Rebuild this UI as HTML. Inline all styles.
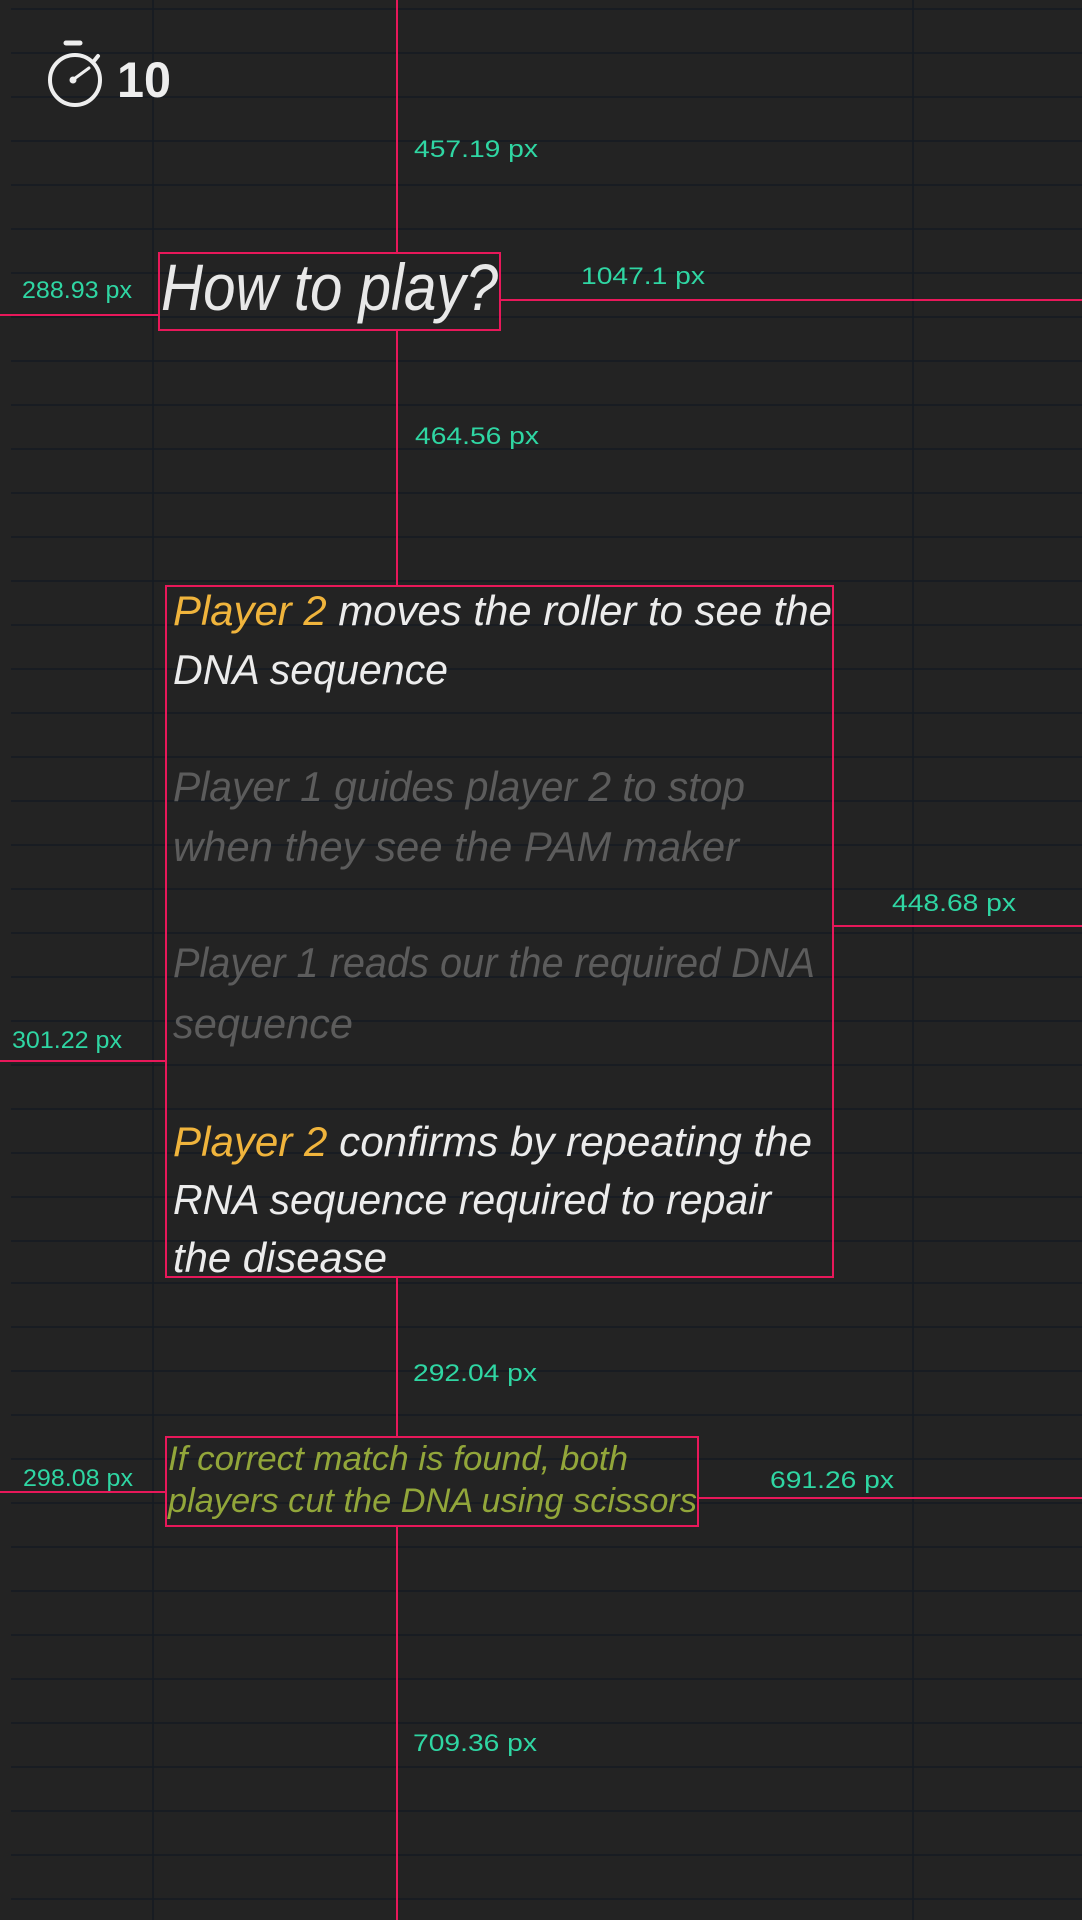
<!DOCTYPE html>
<html><head><meta charset="utf-8"><style>
html,body{margin:0;padding:0;background:#232323;}
svg{display:block;}
.t{font-family:"Liberation Sans",sans-serif;font-style:italic;}
.g{font-family:"Liberation Sans",sans-serif;font-size:24px;fill:#2fd6a3;}
</style></head><body>
<svg width="1082" height="1920" viewBox="0 0 1082 1920" xmlns="http://www.w3.org/2000/svg">
<rect width="1082" height="1920" fill="#232323"/>
<g id="grid" stroke="#141b22" stroke-width="1.5">
<line x1="11" y1="9" x2="1082" y2="9"/><line x1="11" y1="53" x2="1082" y2="53"/><line x1="11" y1="97" x2="1082" y2="97"/><line x1="11" y1="141" x2="1082" y2="141"/><line x1="11" y1="185" x2="1082" y2="185"/><line x1="11" y1="229" x2="1082" y2="229"/><line x1="11" y1="273" x2="1082" y2="273"/><line x1="11" y1="317" x2="1082" y2="317"/><line x1="11" y1="361" x2="1082" y2="361"/><line x1="11" y1="405" x2="1082" y2="405"/><line x1="11" y1="449" x2="1082" y2="449"/><line x1="11" y1="493" x2="1082" y2="493"/><line x1="11" y1="537" x2="1082" y2="537"/><line x1="11" y1="581" x2="1082" y2="581"/><line x1="11" y1="625" x2="1082" y2="625"/><line x1="11" y1="669" x2="1082" y2="669"/><line x1="11" y1="713" x2="1082" y2="713"/><line x1="11" y1="757" x2="1082" y2="757"/><line x1="11" y1="801" x2="1082" y2="801"/><line x1="11" y1="845" x2="1082" y2="845"/><line x1="11" y1="889" x2="1082" y2="889"/><line x1="11" y1="933" x2="1082" y2="933"/><line x1="11" y1="977" x2="1082" y2="977"/><line x1="11" y1="1021" x2="1082" y2="1021"/><line x1="11" y1="1065" x2="1082" y2="1065"/><line x1="11" y1="1109" x2="1082" y2="1109"/><line x1="11" y1="1153" x2="1082" y2="1153"/><line x1="11" y1="1197" x2="1082" y2="1197"/><line x1="11" y1="1241" x2="1082" y2="1241"/><line x1="11" y1="1283" x2="1082" y2="1283"/><line x1="11" y1="1327" x2="1082" y2="1327"/><line x1="11" y1="1371" x2="1082" y2="1371"/><line x1="11" y1="1415" x2="1082" y2="1415"/><line x1="11" y1="1459" x2="1082" y2="1459"/><line x1="11" y1="1503" x2="1082" y2="1503"/><line x1="11" y1="1547" x2="1082" y2="1547"/><line x1="11" y1="1591" x2="1082" y2="1591"/><line x1="11" y1="1635" x2="1082" y2="1635"/><line x1="11" y1="1679" x2="1082" y2="1679"/><line x1="11" y1="1723" x2="1082" y2="1723"/><line x1="11" y1="1767" x2="1082" y2="1767"/><line x1="11" y1="1811" x2="1082" y2="1811"/><line x1="11" y1="1855" x2="1082" y2="1855"/><line x1="11" y1="1899" x2="1082" y2="1899"/>
<line x1="153" y1="0" x2="153" y2="1920"/><line x1="913" y1="0" x2="913" y2="1920"/>
</g>
<g stroke="#eeeeee" fill="none" stroke-width="4" stroke-linecap="round">
<circle cx="75" cy="80" r="25"/>
<line x1="66" y1="43" x2="80" y2="43" stroke-width="5"/>
<line x1="74" y1="79" x2="89" y2="68" stroke-width="3"/>
<line x1="94" y1="61" x2="98" y2="56"/>
</g>
<circle cx="73" cy="80" r="3.5" fill="#eee"/>
<text x="117" y="97" font-family="Liberation Sans,sans-serif" font-weight="bold" font-size="50" fill="#eee" textLength="54" lengthAdjust="spacingAndGlyphs">10</text>
<g stroke="#e8185a" stroke-width="2" fill="none">
<line x1="397" y1="0" x2="397" y2="253"/>
<line x1="397" y1="330" x2="397" y2="586"/>
<line x1="397" y1="1278" x2="397" y2="1437"/>
<line x1="397" y1="1526" x2="397" y2="1920"/>
<line x1="0" y1="315" x2="159" y2="315"/>
<line x1="500" y1="300" x2="1082" y2="300"/>
<line x1="0" y1="1061" x2="166" y2="1061"/>
<line x1="833" y1="926" x2="1082" y2="926"/>
<line x1="0" y1="1492" x2="166" y2="1492"/>
<line x1="698" y1="1498" x2="1082" y2="1498"/>
<rect x="159" y="253" width="341" height="77"/>
<rect x="166" y="586" width="667" height="691"/>
<rect x="166" y="1437" width="532" height="89"/>
</g>
<text class="g" x="414" y="157" textLength="124" lengthAdjust="spacingAndGlyphs">457.19 px</text>
<text class="g" x="22" y="298" textLength="110" lengthAdjust="spacingAndGlyphs">288.93 px</text>
<text class="g" x="581" y="284" textLength="124" lengthAdjust="spacingAndGlyphs">1047.1 px</text>
<text class="g" x="415" y="444" textLength="124" lengthAdjust="spacingAndGlyphs">464.56 px</text>
<text class="g" x="892" y="911" textLength="124" lengthAdjust="spacingAndGlyphs">448.68 px</text>
<text class="g" x="12" y="1048" textLength="110" lengthAdjust="spacingAndGlyphs">301.22 px</text>
<text class="g" x="413" y="1381" textLength="124" lengthAdjust="spacingAndGlyphs">292.04 px</text>
<text class="g" x="23" y="1486" textLength="110" lengthAdjust="spacingAndGlyphs">298.08 px</text>
<text class="g" x="770" y="1488" textLength="124" lengthAdjust="spacingAndGlyphs">691.26 px</text>
<text class="g" x="413" y="1751" textLength="124" lengthAdjust="spacingAndGlyphs">709.36 px</text>
<text class="t" x="161" y="310" style="font-size:66px" fill="#e8e8e8" textLength="337" lengthAdjust="spacingAndGlyphs">How to play?</text>
<g style="font-size:42px">
<text class="t" x="173" y="625" style="font-size:42px" textLength="659" lengthAdjust="spacingAndGlyphs"><tspan fill="#f0b43c">Player 2 </tspan><tspan fill="#ececec">moves the roller to see the</tspan></text>
<text class="t" x="173" y="684" style="font-size:42px" fill="#ececec" textLength="275" lengthAdjust="spacingAndGlyphs">DNA sequence</text>
<text class="t" x="173" y="801" style="font-size:42px" fill="#5c5c5c" textLength="572" lengthAdjust="spacingAndGlyphs">Player 1 guides player 2 to stop</text>
<text class="t" x="173" y="861" style="font-size:42px" fill="#5c5c5c" textLength="566" lengthAdjust="spacingAndGlyphs">when they see the PAM maker</text>
<text class="t" x="173" y="977" style="font-size:42px" fill="#5c5c5c" textLength="642" lengthAdjust="spacingAndGlyphs">Player 1 reads our the required DNA</text>
<text class="t" x="173" y="1038" style="font-size:42px" fill="#5c5c5c" textLength="180" lengthAdjust="spacingAndGlyphs">sequence</text>
<text class="t" x="173" y="1156" style="font-size:42px" textLength="639" lengthAdjust="spacingAndGlyphs"><tspan fill="#f0b43c">Player 2 </tspan><tspan fill="#ececec">confirms by repeating the</tspan></text>
<text class="t" x="173" y="1214" style="font-size:42px" fill="#ececec" textLength="598" lengthAdjust="spacingAndGlyphs">RNA sequence required to repair</text>
<text class="t" x="173" y="1272" style="font-size:42px" fill="#ececec" textLength="214" lengthAdjust="spacingAndGlyphs">the disease</text>
</g>
<text class="t" x="168" y="1470" style="font-size:34px" fill="#92a63a" textLength="460" lengthAdjust="spacingAndGlyphs">If correct match is found, both</text>
<text class="t" x="168" y="1512" style="font-size:34px" fill="#92a63a" textLength="529" lengthAdjust="spacingAndGlyphs">players cut the DNA using scissors</text>
</svg>
</body></html>
